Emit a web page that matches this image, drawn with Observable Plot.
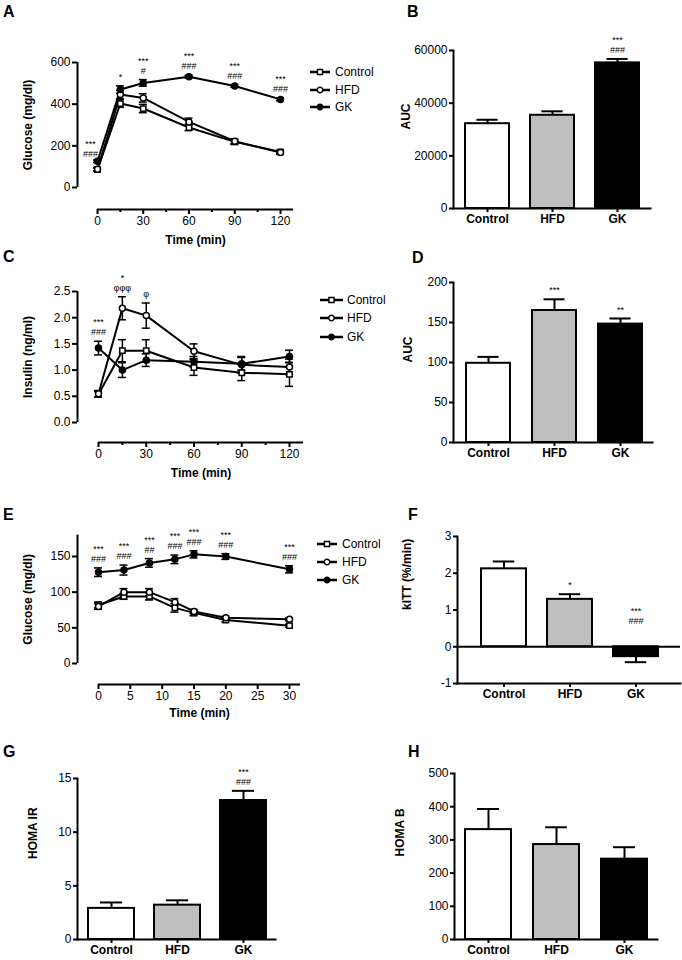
<!DOCTYPE html>
<html>
<head>
<meta charset="utf-8">
<script src="https://cdn.jsdelivr.net/npm/d3@7"></script>
<script src="https://cdn.jsdelivr.net/npm/@observablehq/plot@0.6"></script>
<style>
html,body{margin:0;padding:0;background:#fff;}
#fig{position:relative;width:682px;height:960px;overflow:hidden;background:#fff;font-family:"Liberation Sans",Arial,Helvetica,sans-serif;}
#fig .panel{position:absolute;}
#fig svg{display:block;}
#overlay{position:absolute;left:0;top:0;pointer-events:none;}
</style>
</head>
<body>
<div id="fig"></div>
<script>
// ---------------- DATA ----------------
const groups = ["Control", "HFD", "GK"];
const groupFills = ["#ffffff", "#bfbfbf", "#000000"];

// A: OGTT glucose (mg/dl)
const ogttTime = [0, 15, 30, 60, 90, 120];
const ogttTimeTicks = [0, 30, 60, 90, 120];
const ogttTimeMinor = [15, 45, 75, 105];
const ogttGluControl = [86, 403, 379, 288, 219, 171];
const ogttGluControlSem = [8, 18, 20, 15, 12, 8];
const ogttGluHFD = [88, 446, 430, 315, 222, 168];
const ogttGluHFDSem = [8, 20, 20, 18, 12, 8];
const ogttGluGK = [126, 470, 502, 532, 487, 423];
const ogttGluGKSem = [6, 18, 16, 6, 6, 6];
const ogttGluTicks = [0, 200, 400, 600];
const ogttGluSigTime = [0, 15, 30, 60, 90, 120];
const ogttGluSigRef = ["GK", "GK", "GK", "GK", "GK", "GK"];
const ogttGluSigText = ["***\n###", "*", "***\n#", "***\n###", "***\n###", "***\n###"];

// B: glucose AUC
const gluAuc = [32200, 35400, 55300];
const gluAucSem = [1500, 1500, 1500];
const gluAucTicks = [0, 20000, 40000, 60000];
const gluAucSigRef = ["GK"];
const gluAucSigText = ["***\n###"];

// C: OGTT insulin (ng/ml)
const insControl = [0.54, 1.37, 1.37, 1.05, 0.95, 0.92];
const insControlSem = [0.05, 0.21, 0.21, 0.15, 0.15, 0.23];
const insHFD = [0.55, 2.18, 2.04, 1.36, 1.10, 1.06];
const insHFDSem = [0.06, 0.22, 0.24, 0.14, 0.16, 0.15];
const insGK = [1.42, 1.00, 1.19, 1.16, 1.12, 1.26];
const insGKSem = [0.13, 0.14, 0.12, 0.10, 0.12, 0.12];
const insTicks = [0, 0.5, 1.0, 1.5, 2.0, 2.5];
const insSigTime = [0, 15, 30];
const insSigRef = ["GK", "HFD", "HFD"];
const insSigText = ["***\n###", "*\nφφφ", "φ"];

// D: insulin AUC
const insAuc = [99, 165, 148];
const insAucSem = [8, 14, 7];
const insAucTicks = [0, 50, 100, 150, 200];
const insAucSigRef = ["HFD", "GK"];
const insAucSigText = ["***", "**"];

// E: ITT glucose (mg/dl)
const ittTime = [0, 4, 8, 12, 15, 20, 30];
const ittTimeTicks = [0, 5, 10, 15, 20, 25, 30];
const ittControl = [82, 94, 94, 78, 71, 61, 53];
const ittControlSem = [4, 4, 5, 6, 4, 3, 2];
const ittHFD = [80, 100, 100, 86, 73, 64, 62];
const ittHFDSem = [4, 5, 5, 5, 3, 2, 2];
const ittGK = [128, 131, 141, 146, 153, 150, 132];
const ittGKSem = [6, 7, 6, 6, 5, 4, 5];
const ittTicks = [0, 50, 100, 150];
const ittSigTime = [0, 4, 8, 12, 15, 20, 30];
const ittSigRef = ["GK", "GK", "GK", "GK", "GK", "GK", "GK"];
const ittSigText = ["***\n###", "***\n###", "***\n##", "***\n###", "***\n###", "***\n###", "***\n###"];

// F: kITT (%/min)
const kitt = [2.12, 1.29, -0.27];
const kittSem = [0.2, 0.14, 0.15];
const kittTicks = [-1, 0, 1, 2, 3];
const kittSigRef = ["HFD", "GK"];
const kittSigText = ["*", "***\n###"];

// G: HOMA IR
const homaIR = [2.9, 3.2, 12.95];
const homaIRSem = [0.55, 0.45, 0.9];
const homaIRTicks = [0, 5, 10, 15];
const homaIRSigRef = ["GK"];
const homaIRSigText = ["***\n###"];

// H: HOMA B
const homaB = [331, 286, 242];
const homaBSem = [62, 52, 36];
const homaBTicks = [0, 100, 200, 300, 400, 500];

// ---------------- DRAWING ----------------
const FONT = '"Liberation Sans", Arial, Helvetica, sans-serif';
const INK = "#000000";
const SIG_SIZE = 9;      // font size of significance marks
const SIG_GAP = 10;      // px between the two lines of a significance mark
const fig = document.getElementById("fig");
const plotStyle = {background: "transparent", fontFamily: FONT, fontSize: "12px", color: INK, overflow: "visible"};

function place(node, box) {
  const div = document.createElement("div");
  div.className = "panel";
  div.style.left = box.left + "px";
  div.style.top = box.top + "px";
  div.style.width = box.width + "px";
  div.style.height = box.height + "px";
  div.appendChild(node);
  fig.appendChild(div);
}

// split "***\n###" into an upper and a lower text line
function sigLines(list) {
  const lower = [], upper = [];
  list.forEach(a => {
    const parts = a.text.split("\n");
    lower.push({...a, line: parts[parts.length - 1]});
    if (parts.length > 1) upper.push({...a, line: parts[0]});
  });
  return {lower, upper};
}
function sigMarks(list, xKey, baseDy, dx) {
  const {lower, upper} = sigLines(list);
  return [
    Plot.text(lower, {x: xKey, y: "y", text: "line", dy: baseDy, dx, lineAnchor: "bottom", fontSize: SIG_SIZE, fill: INK}),
    Plot.text(upper, {x: xKey, y: "y", text: "line", dy: baseDy - SIG_GAP, dx, lineAnchor: "bottom", fontSize: SIG_SIZE, fill: INK})
  ];
}

const symbolOf = {Control: "square", HFD: "circle", GK: "circle"};
const dotFillOf = {Control: "#ffffff", HFD: "#ffffff", GK: INK};

function linePanel(p) {
  const box = p.box;
  const L = v => v - box.left, T = v => v - box.top;
  const xr = p.xPx.map(L), yr = p.yPx.map(T);
  const kx = (p.xDomain[1] - p.xDomain[0]) / (xr[1] - xr[0]);
  const ky = (p.yDomain[1] - p.yDomain[0]) / (yr[1] - yr[0]);
  const xAt = px => p.xDomain[0] + (L(px) - xr[0]) * kx;
  const yAt = px => p.yDomain[0] + (T(px) - yr[0]) * ky;
  const yAxisX = xAt(p.yAxisPx), xAxisY = yAt(p.xAxisPx), xEnd = xAt(p.xEndPx);
  const cap = 4 * Math.abs(kx);
  const rows = p.series.flatMap(s => p.t.map((t, i) => ({group: s.group, t, v: s.v[i], e: s.e[i]})));
  const ann = p.sigTime.map((t, k) => {
    const s = p.series.find(s => s.group === p.sigRef[k]);
    const i = p.t.indexOf(t);
    return {t, y: s.v[i] + s.e[i], text: p.sigText[k], shift: !!(p.annShift && p.annShift[t])};
  });
  const chart = Plot.plot({
    width: box.width, height: box.height,
    marginLeft: L(p.yAxisPx), marginBottom: box.height - T(p.xAxisPx), marginTop: 0, marginRight: 0,
    x: {type: "linear", domain: p.xDomain, range: xr},
    y: {type: "linear", domain: p.yDomain, range: yr},
    style: plotStyle,
    marks: [
      Plot.ruleX([yAxisX], {y1: p.yDomain[0], y2: p.yTop, stroke: INK, strokeWidth: 2}),
      Plot.ruleY([xAxisY], {x1: p.xDomain[0], x2: xEnd, stroke: INK, strokeWidth: 2}),
      Plot.axisY({ticks: p.yTicks, tickSize: 5, tickPadding: 2, strokeWidth: 2, fontSize: 12, tickFormat: p.yFormat, label: null}),
      ...(p.xMinor ? [Plot.axisX({ticks: p.xMinor, tickSize: 3, strokeWidth: 2, tickFormat: () => "", label: null})] : []),
      Plot.axisX({ticks: p.xTicks, tickSize: 5, tickPadding: 2, strokeWidth: 2, fontSize: 12, label: null}),
      Plot.line(rows, {x: "t", y: "v", z: "group", stroke: INK, strokeWidth: 2}),
      Plot.ruleX(rows, {x: "t", y1: d => d.v - d.e, y2: d => d.v + d.e, stroke: INK, strokeWidth: 1.5}),
      Plot.ruleY(rows, {y: d => d.v + d.e, x1: d => d.t - cap, x2: d => d.t + cap, stroke: INK, strokeWidth: 1.5}),
      Plot.ruleY(rows, {y: d => d.v - d.e, x1: d => d.t - cap, x2: d => d.t + cap, stroke: INK, strokeWidth: 1.5}),
      ...groups.map(g => Plot.dot(rows.filter(d => d.group === g), {x: "t", y: "v", symbol: symbolOf[g], r: 3, fill: dotFillOf[g], stroke: INK, strokeWidth: 1.5})),
      ...sigMarks(ann.filter(a => !a.shift), "t", -6, 0),
      ...sigMarks(ann.filter(a => a.shift), "t", -3, -7),
      Plot.text([p.xLabel], {x: (p.xDomain[0] + xEnd) / 2, y: xAxisY, dy: p.xLabelDy, text: d => d, fontWeight: "bold", fontSize: 12}),
      Plot.text([p.yLabel], {x: yAxisX, y: (p.yDomain[0] + p.yTop) / 2, dx: p.yLabelPx - p.yAxisPx, rotate: -90, text: d => d, fontWeight: "bold", fontSize: 12})
    ]
  });
  place(chart, box);
}

function barPanel(p) {
  const box = p.box;
  const L = v => v - box.left, T = v => v - box.top;
  const rows = groups.map((g, i) => ({group: g, v: p.values[i], e: p.errors[i]}));
  const tip = d => d.v >= 0 ? d.v + d.e : d.v - d.e;
  const ann = (p.sigRef || []).map((g, k) => {
    const d = rows.find(r => r.group === g);
    return {group: g, y: d.v >= 0 ? tip(d) : 0, neg: d.v < 0, text: p.sigText[k]};
  });
  const step = (p.bandPx[1] - p.bandPx[0]) / 3;
  const bw = step * (1 - p.padding);
  const capInset = bw * 0.26;
  const chart = Plot.plot({
    width: box.width, height: box.height,
    marginLeft: L(p.yAxisPx), marginRight: box.width - L(p.xEndPx),
    marginTop: T(p.yPx[1]), marginBottom: box.height - T(p.yPx[0]),
    x: {type: "band", domain: groups, range: p.bandPx.map(L), paddingInner: p.padding, paddingOuter: p.padding / 2},
    y: {type: "linear", domain: p.yDomain},
    color: {domain: groups, range: groupFills},
    style: plotStyle,
    marks: [
      Plot.barY(rows, {x: "group", y: "v", fill: "group", stroke: INK, strokeWidth: 2}),
      Plot.ruleX(rows, {x: "group", y1: "v", y2: tip, stroke: INK, strokeWidth: 2}),
      Plot.tickY(rows, {x: "group", y: tip, stroke: INK, strokeWidth: 2, insetLeft: capInset, insetRight: capInset}),
      ...(p.yDomain[0] < 0 ? [Plot.ruleY([0], {stroke: INK, strokeWidth: 2})] : []),
      Plot.frame({anchor: "left", stroke: INK, strokeWidth: 2}),
      Plot.frame({anchor: "bottom", stroke: INK, strokeWidth: 2}),
      Plot.axisY({ticks: p.yTicks, tickSize: 4, tickPadding: 2, strokeWidth: 2, fontSize: 12, tickFormat: d => String(d), label: null}),
      Plot.axisX({tickSize: 4, tickPadding: 2, strokeWidth: 2, fontSize: 12, fontWeight: "bold", label: null}),
      ...sigMarks(ann.filter(a => !a.neg), "group", -6, 0),
      ...sigMarks(ann.filter(a => a.neg), "group", -23, 0),
      Plot.text([p.yLabel], {frameAnchor: "left", dx: p.yLabelPx - p.yAxisPx, rotate: -90, text: d => d, fontWeight: "bold", fontSize: 12})
    ]
  });
  place(chart, box);
}

// A
linePanel({
  box: {left: 0, top: 0, width: 380, height: 246},
  t: ogttTime,
  series: [
    {group: "Control", v: ogttGluControl, e: ogttGluControlSem},
    {group: "HFD", v: ogttGluHFD, e: ogttGluHFDSem},
    {group: "GK", v: ogttGluGK, e: ogttGluGKSem}
  ],
  xDomain: [0, 120], xPx: [97, 280], xEndPx: 293,
  yDomain: [0, 600], yPx: [187, 62], yTop: 600,
  yAxisPx: 77, xAxisPx: 209,
  yTicks: ogttGluTicks, xTicks: ogttTimeTicks, xMinor: ogttTimeMinor,
  sigTime: ogttGluSigTime, sigRef: ogttGluSigRef, sigText: ogttGluSigText, annShift: {0: true},
  xLabel: "Time (min)", xLabelDy: 31, yLabel: "Glucose (mg/dl)", yLabelPx: 28
});

// C
linePanel({
  box: {left: 0, top: 246, width: 380, height: 236},
  t: ogttTime,
  series: [
    {group: "Control", v: insControl, e: insControlSem},
    {group: "HFD", v: insHFD, e: insHFDSem},
    {group: "GK", v: insGK, e: insGKSem}
  ],
  xDomain: [0, 120], xPx: [98, 289], xEndPx: 303,
  yDomain: [0, 2.5], yPx: [422, 291], yTop: 2.5,
  yAxisPx: 77, xAxisPx: 442,
  yTicks: insTicks, yFormat: d => d.toFixed(1), xTicks: ogttTimeTicks, xMinor: ogttTimeMinor,
  sigTime: insSigTime, sigRef: insSigRef, sigText: insSigText,
  xLabel: "Time (min)", xLabelDy: 31, yLabel: "Insulin (ng/ml)", yLabelPx: 28
});

// E
linePanel({
  box: {left: 0, top: 482, width: 380, height: 240},
  t: ittTime,
  series: [
    {group: "Control", v: ittControl, e: ittControlSem},
    {group: "HFD", v: ittHFD, e: ittHFDSem},
    {group: "GK", v: ittGK, e: ittGKSem}
  ],
  xDomain: [0, 30], xPx: [98, 289], xEndPx: 300,
  yDomain: [0, 150], yPx: [663, 556], yTop: 180,
  yAxisPx: 77, xAxisPx: 684,
  yTicks: ittTicks, xTicks: ittTimeTicks,
  sigTime: ittSigTime, sigRef: ittSigRef, sigText: ittSigText,
  xLabel: "Time (min)", xLabelDy: 29, yLabel: "Glucose (mg/dl)", yLabelPx: 28
});

// B
barPanel({
  box: {left: 380, top: 0, width: 302, height: 236},
  values: gluAuc, errors: gluAucSem,
  yDomain: [0, 60000], yPx: [208, 50], yTicks: gluAucTicks,
  yAxisPx: 453, xEndPx: 650, bandPx: [454, 650], padding: 0.33,
  sigRef: gluAucSigRef, sigText: gluAucSigText,
  yLabel: "AUC", yLabelPx: 406
});

// D
barPanel({
  box: {left: 380, top: 236, width: 302, height: 234},
  values: insAuc, errors: insAucSem,
  yDomain: [0, 200], yPx: [442, 282], yTicks: insAucTicks,
  yAxisPx: 453, xEndPx: 652, bandPx: [454, 653], padding: 0.335,
  sigRef: insAucSigRef, sigText: insAucSigText,
  yLabel: "AUC", yLabelPx: 408
});

// F
barPanel({
  box: {left: 380, top: 470, width: 302, height: 250},
  values: kitt, errors: kittSem,
  yDomain: [-1, 3], yPx: [683, 536], yTicks: kittTicks,
  yAxisPx: 457, xEndPx: 680, bandPx: [469, 669], padding: 0.32,
  sigRef: kittSigRef, sigText: kittSigText,
  yLabel: "kITT (%/min)", yLabelPx: 407
});

// G
barPanel({
  box: {left: 0, top: 722, width: 380, height: 238},
  values: homaIR, errors: homaIRSem,
  yDomain: [0, 15], yPx: [939, 778], yTicks: homaIRTicks,
  yAxisPx: 77, xEndPx: 275, bandPx: [77, 276], padding: 0.31,
  sigRef: homaIRSigRef, sigText: homaIRSigText,
  yLabel: "HOMA IR", yLabelPx: 33
});

// H
barPanel({
  box: {left: 380, top: 720, width: 302, height: 240},
  values: homaB, errors: homaBSem,
  yDomain: [0, 500], yPx: [939, 773], yTicks: homaBTicks,
  yAxisPx: 454, xEndPx: 657, bandPx: [454, 659], padding: 0.32,
  yLabel: "HOMA B", yLabelPx: 400
});

// ---------------- overlay: panel letters and legends ----------------
const overlay = d3.create("svg").attr("id", "overlay").attr("width", 682).attr("height", 960)
  .style("font-family", FONT);
const letterLayout = [["A", 3, 17], ["B", 407, 17], ["C", 3, 262], ["D", 412, 263], ["E", 3, 520], ["F", 408, 520], ["G", 3, 757], ["H", 408, 757]];
overlay.selectAll("text.letter").data(letterLayout).join("text")
  .attr("class", "letter").attr("x", d => d[1]).attr("y", d => d[2])
  .attr("font-size", 16).attr("font-weight", "bold").attr("fill", INK).text(d => d[0]);

function legend(x1, x2, tx, rowsY) {
  const g = overlay.append("g");
  groups.forEach((name, i) => {
    const y = rowsY[i];
    g.append("line").attr("x1", x1).attr("x2", x2).attr("y1", y).attr("y2", y).attr("stroke", INK).attr("stroke-width", 2.5);
    const sym = name === "Control" ? d3.symbolSquare : d3.symbolCircle;
    g.append("path").attr("d", d3.symbol(sym, name === "Control" ? 26 : 24)())
      .attr("transform", `translate(${(x1 + x2) / 2},${y})`)
      .attr("fill", dotFillOf[name]).attr("stroke", INK).attr("stroke-width", 1.4);
    g.append("text").attr("x", tx).attr("y", y).attr("dy", "0.35em").attr("font-size", 12).attr("fill", INK).text(name);
  });
}
legend(310, 330, 335, [72, 90, 107]);
legend(320, 343, 347, [300, 318, 337]);
legend(317, 337, 342, [544, 562, 580]);
fig.appendChild(overlay.node());
</script>
</body>
</html>
